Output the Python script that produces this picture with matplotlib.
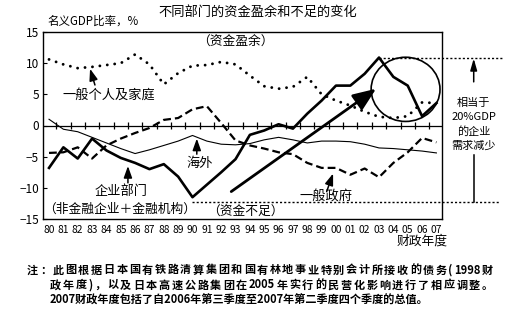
import re
import matplotlib
matplotlib.use("Agg")
import numpy as np
import matplotlib.pyplot as plt
from matplotlib.patches import Ellipse

plt.rcParams['font.family'] = ['Noto Sans CJK SC', 'DejaVu Sans']

# 财政年度与各部门资金盈余/不足（名义GDP比率，%）
years = list(range(1980, 2008))
year_labels = [f"{y % 100:02d}" for y in years]

household = [10.6, 9.8, 9.2, 9.4, 9.7, 10.0, 11.4, 9.8, 6.6, 8.4,
             9.6, 9.7, 10.2, 9.8, 8.0, 6.3, 5.9, 6.2, 7.8, 5.0,
             4.0, 3.2, 2.2, 1.4, 1.2, 1.5, 3.7, 3.6]
corporate = [-6.8, -3.5, -5.3, -2.1, -4.0, -5.2, -6.0, -7.0, -6.2, -8.2,
             -11.5, -9.5, -7.5, -5.4, -1.5, -0.8, 0.2, -0.5, 1.9, 4.0,
             6.4, 6.4, 8.3, 10.9, 7.8, 6.4, 1.5, 3.6]
government = [-4.4, -4.3, -3.5, -5.3, -3.2, -2.1, -1.2, -0.4, 0.9, 1.2,
              2.6, 3.1, 0.4, -2.4, -3.2, -3.7, -4.3, -4.6, -6.0, -6.8,
              -6.8, -7.9, -6.9, -8.3, -6.0, -4.3, -2.0, -2.7]
overseas = [1.0, -0.6, -1.0, -1.9, -2.8, -3.7, -4.5, -3.9, -3.2, -2.5,
            -1.6, -2.5, -3.0, -3.1, -2.9, -2.3, -1.9, -2.3, -2.8, -2.5,
            -2.5, -2.6, -3.0, -3.6, -3.7, -3.9, -4.1, -4.4]

y_ticks = [-15, -10, -5, 0, 5, 10, 15]
deficit_level = -12.2

W, H = 519, 309
fig = plt.figure(figsize=(W / 100, H / 100), dpi=100)
ax = fig.add_axes([43 / W, 1 - 219 / H, (442 - 43) / W, (219 - 32) / H])
ax.set_xlim(1979.58, 2007.39)
ax.set_ylim(-15, 15)

# 各部门曲线
ax.plot(years, household, color='black', lw=2.1, linestyle=(0, (0.01, 2.55)),
        dash_capstyle='round')
ax.plot(years, government, color='black', lw=1.6, linestyle=(0, (3.5, 1.8)))
ax.plot(years, overseas, color='black', lw=0.8)
ax.plot(years, corporate, color='black', lw=1.9)

# 零线及刻度
ax.axhline(0, color='black', lw=0.9)
ax.vlines(np.arange(1980.5, 2007, 1.0), -0.55, 0.55, color='black', lw=0.9)

ax.set_yticks(y_ticks)
ax.set_yticklabels([f"{v}".replace('-', '\u2212') for v in y_ticks])
ax.tick_params(axis='y', direction='in', length=3, labelsize=8.5, pad=3)
ax.set_xticks(years)
ax.set_xticklabels(year_labels)
ax.tick_params(axis='x', length=0, labelsize=7.4, pad=4)
for s in ax.spines.values():
    s.set_linewidth(1.0)

# 资金盈余峰值与不足水平的参考线
i_peak = int(np.argmax(corporate))
i_low = int(np.argmin(corporate))
ax.plot([years[i_peak], 2011.6], [corporate[i_peak]] * 2, color='black',
        lw=1.0, linestyle=(0, (1.5, 1.5)), clip_on=False)
ax.plot([years[i_low], 2011.4], [deficit_level] * 2, color='black',
        lw=1.0, linestyle=(0, (1.5, 1.5)), clip_on=False)

# 圈出近年企业部门的变化
ax.add_patch(Ellipse((2004.85, 5.8), width=4.8, height=10.3, fill=False,
                     lw=1.2, color='black'))

# 大箭头
ax.annotate('', xy=(2002.8, 5.9), xytext=(1992.7, -10.6),
            arrowprops=dict(arrowstyle='-|>,head_length=1.0,head_width=0.4',
                            lw=2.0, color='black', mutation_scale=14,
                            shrinkA=0, shrinkB=0))

small_arrow = dict(arrowstyle='-|>,head_length=0.7,head_width=0.25',
                   lw=1.1, color='black', mutation_scale=10,
                   shrinkA=0, shrinkB=0)

tfs = 9.5
ax.text(1984.2, 4.8, '一般个人及家庭', ha='center', va='center', fontsize=tfs)
ax.annotate('', xy=(1982.86, 9.1), xytext=(1983.2, 6.5), arrowprops=small_arrow)

ax.text(1990.5, -6.1, '海外', ha='center', va='center', fontsize=tfs)
ax.annotate('', xy=(1990.3, -2.1), xytext=(1990.3, -4.6), arrowprops=small_arrow)

ax.text(1985.05, -10.6, '企业部门', ha='center', va='center', fontsize=tfs)
ax.annotate('', xy=(1985.5, -6.5), xytext=(1985.5, -9.2), arrowprops=small_arrow)

ax.text(1984.95, -13.5, '（非金融企业＋金融机构）', ha='center', va='center',
        fontsize=9.2)
ax.text(1993.7, -13.9, '（资金不足）', ha='center', va='center', fontsize=9.2)
ax.text(1993.0, 13.3, '（资金盈余）', ha='center', va='center', fontsize=9.2)

ax.text(1999.3, -11.4, '一般政府', ha='center', va='center', fontsize=tfs)
ax.annotate('', xy=(1999.8, -7.7), xytext=(1999.35, -10.6), arrowprops=small_arrow)

# 右侧说明
ax.annotate('', xy=(2009.6, 10.75), xytext=(2009.6, 7.0),
            arrowprops=dict(arrowstyle='-|>,head_length=0.7,head_width=0.2',
                            lw=1.1, color='black', mutation_scale=10,
                            shrinkA=0, shrinkB=0),
            annotation_clip=False)
ax.text(2009.6, 0.2, '相当于\n20%GDP\n的企业\n需求减少', ha='center', va='center',
        fontsize=8, linespacing=1.45, clip_on=False)
ax.plot([2009.6, 2009.6], [-4.8, deficit_level], color='black', lw=1.1,
        clip_on=False)

# 标题与坐标说明
fig.text(258 / W, 1 - 12 / H, '不同部门的资金盈余和不足的变化', ha='center',
         va='center', fontsize=9.5)
fig.text(47 / W, 1 - 21 / H, '名义GDP比率，%', ha='left', va='center', fontsize=8.3)
fig.text(422 / W, 1 - 241 / H, '财政年度', ha='center', va='center', fontsize=9.2)

# 注释（前两行两端对齐）
notes = [
    '注：此图根据日本国有铁路清算集团和国有林地事业特别会计所接收的债务(1998财',
    '政年度)，以及日本高速公路集团在2005年实行的民营化影响进行了相应调整。',
    '2007财政年度包括了自2006年第三季度至2007年第二季度四个季度的总值。',
]
note_style = dict(ha='left', va='center', fontsize=8.0, weight='bold')
renderer = fig.canvas.get_renderer()


def justified_line(text, x0, x1, y):
    tokens = re.findall(r'[0-9A-Za-z]+|.', text)
    items = [fig.text(0, y, tok, **note_style) for tok in tokens]
    widths = [t.get_window_extent(renderer).width for t in items]
    gap = (x1 - x0 - sum(widths)) / (len(items) - 1)
    x = x0
    for t, w in zip(items, widths):
        t.set_x(x / W)
        x += w + gap


justified_line(notes[0], 27, 493, 1 - 270 / H)
justified_line(notes[1], 50, 493, 1 - 285 / H)
fig.text(50 / W, 1 - 300 / H, notes[2], **note_style)

fig.savefig('out.png', dpi=100, facecolor='white')
